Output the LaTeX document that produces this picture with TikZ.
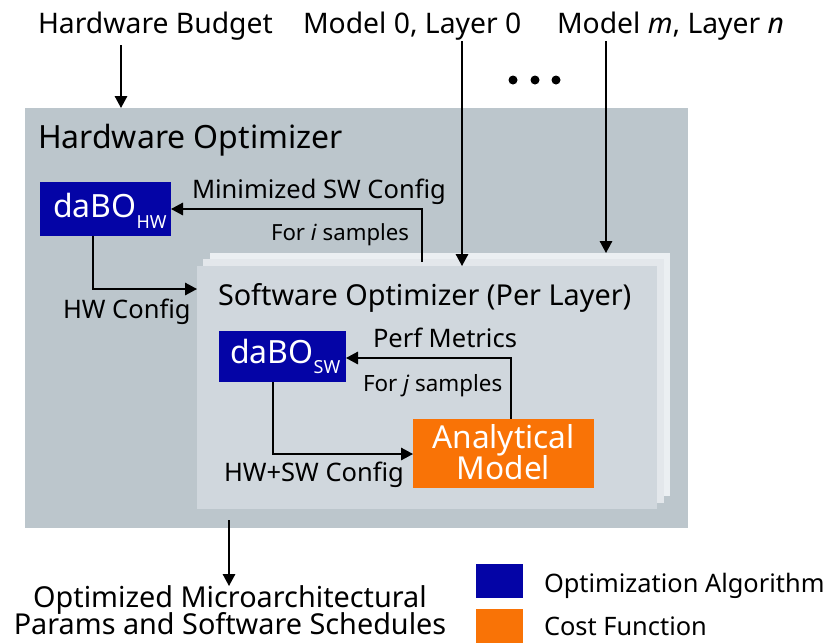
\documentclass[tikz,border=0pt]{standalone}
\usepackage{fontspec}
\setmainfont{Noto Sans}
\usetikzlibrary{arrows.meta}
\definecolor{hwbg}{RGB}{188,198,204}
\definecolor{swfront}{RGB}{208,215,221}
\definecolor{swmid}{RGB}{227,231,235}
\definecolor{swback}{RGB}{235,239,242}
\definecolor{algblue}{RGB}{4,4,166}
\definecolor{costorange}{RGB}{249,115,6}
\newcommand{\fs}[1]{\fontsize{#1}{#1}\selectfont}

\begin{document}
\begin{tikzpicture}[x=1pt,y=-1pt,
  area/.style={inner sep=0pt, outer sep=0pt, anchor=north west},
  flow/.style={-{Triangle[length=12pt,width=12.5pt]}, line width=1.6pt},
  lbl/.style={inner sep=0pt, outer sep=0pt, anchor=base west, font=\fs{25.5}},
  toplbl/.style={lbl, font=\fs{28.3}},
  ttl/.style={inner sep=0pt, outer sep=0pt, anchor=base west, font=\fs{32}},
  algo/.style={area, fill=algblue, text=white},
  cost/.style={area, fill=costorange, text=white}]
\useasboundingbox (0,0) rectangle (827,643);

% hardware optimizer frame
\node[area, fill=hwbg, minimum width=663pt, minimum height=420pt] (hwopt) at (25,108) {};
\node[ttl] (hwtitle) at (38,148) {Hardware Optimizer};

% stacked per-layer software optimizers
\node[area, fill=swback, minimum width=460pt, minimum height=243pt] (swback) at (210,253) {};
\node[area, fill=swmid, minimum width=461pt, minimum height=244pt] (swmid) at (203,259) {};
\node[area, fill=swfront, minimum width=460pt, minimum height=243pt] (swfront) at (197,266) {};
\node[ttl, font=\fs{28.8}] (swtitle) at (218,305) {Software Optimizer (Per Layer)};

% algorithm and cost blocks
\node[algo, minimum width=131pt, minimum height=54pt] (dabohw) at (40,182) {};
\node[inner sep=0pt, anchor=base west, text=white] (dabohwtxt) at (53,217)
  {\fs{32}daBO\raisebox{-11pt}{\fs{18}HW}};
\node[algo, minimum width=127pt, minimum height=51pt] (dabosw) at (219,331) {};
\node[inner sep=0pt, anchor=base west, text=white] (daboswtxt) at (230,363)
  {\fs{32}daBO\raisebox{-10pt}{\fs{18}SW}};
\node[cost, minimum width=181pt, minimum height=69pt] (model) at (413,419) {};
\node[inner sep=0pt, anchor=center, text=white, align=center, font=\fs{31.6}]
  (modeltxt) at (503.5,452) {Analytical\\[-1pt]Model};

% external inputs
\node[toplbl] (budget) at (38,33) {Hardware Budget};
\node[toplbl] (layer0) at (303,33) {Model 0, Layer 0};
\node[toplbl] (layern) at (557,33) {Model \textit{m}, Layer \textit{n}};
\foreach \dx in {513,535,556} \fill (\dx,80) circle (4.5pt);

% connector labels
\node[lbl] (minsw) at (192,198) {Minimized SW Config};
\node[lbl, font=\fs{22.2}] (isamp) at (271,240) {For \textit{i} samples};
\node[lbl] (hwcfg) at (63,318) {HW Config};
\node[lbl] (perf) at (373,347) {Perf Metrics};
\node[lbl, font=\fs{22.4}] (jsamp) at (363,391) {For \textit{j} samples};
\node[lbl] (hwswcfg) at (224,481) {HW+SW Config};

% output
\node[inner sep=0pt, anchor=base, align=center, font=\fs{28.8}] (out1) at (230,607) {Optimized Microarchitectural};
\node[inner sep=0pt, anchor=base, align=center, font=\fs{28.8}] (out2) at (230,634.5) {Params and Software Schedules};

% legend
\node[area, fill=algblue, minimum width=47pt, minimum height=34pt] (legalg) at (476,564) {};
\node[area, fill=costorange, minimum width=47pt, minimum height=34pt] (legcost) at (476,609) {};
\node[lbl, font=\fs{25.4}] (legalgtxt) at (544,592) {Optimization Algorithm};
\node[lbl, font=\fs{25.4}] (legcosttxt) at (544,635) {Cost Function};

% connectors
\coordinate (budgetin) at (121,108);
\draw[flow] (budgetin |- 0,45) -- (budgetin);
\coordinate (l0in) at (462,266);
\draw[flow] (l0in |- 0,41) -- (l0in);
\coordinate (lnin) at (606,253);
\draw[flow] (lnin |- 0,41) -- (lnin);
\coordinate (minsrc) at (422,262);
\draw[flow] (minsrc) |- (dabohw.east |- 0,209) ;
\coordinate (hwdown) at (93,236);
\draw[flow] (hwdown) |- (swfront.west |- 0,289);
\coordinate (swdown) at (273,382);
\draw[flow] (swdown) |- (model.west |- 0,454);
\coordinate (perfsrc) at (511,419);
\draw[flow] (perfsrc) |- (dabosw.east |- 0,358);
\coordinate (outsrc) at (229,520);
\draw[flow] (outsrc) -- (229,586);
\end{tikzpicture}
\end{document}
